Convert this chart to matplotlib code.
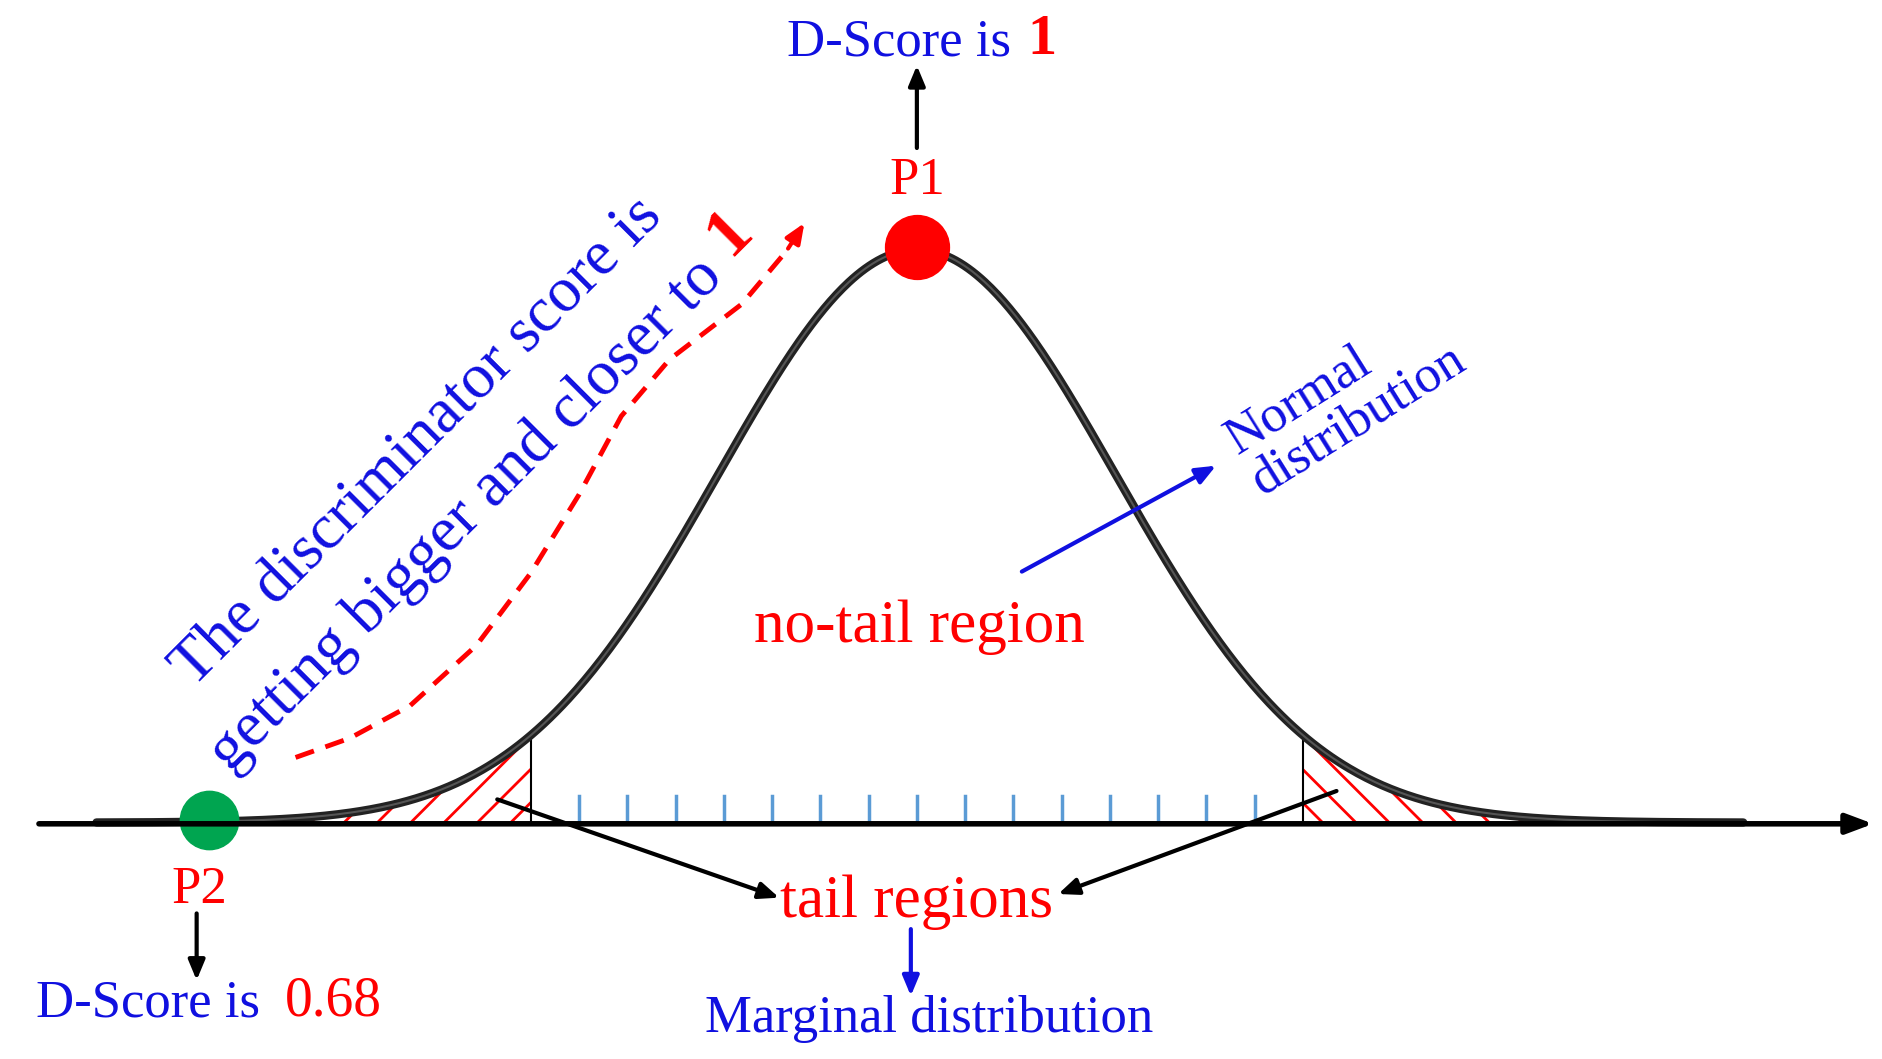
import numpy as np
import matplotlib.pyplot as plt
from matplotlib.patches import Polygon

plt.rcParams['font.family'] = ['Liberation Serif', 'DejaVu Serif']
plt.rcParams['hatch.linewidth'] = 2.0

# diagram layout in display units (1560 x 878 canvas, y downwards)
peak_x, peak_h, sigma = 760, 475, 165
base_y = 682
curve_x0, curve_x1 = 80, 1445
tail_left, tail_right = 440, 1080
tick_xs = list(range(480, 1041, 40))
dash_pts = [(245, 628), (290, 612), (340, 585), (395, 535), (440, 475),
            (480, 410), (515, 345), (555, 298), (615, 252), (652, 208)]

def curve_y(x):
    return base_y - peak_h * np.exp(-(x - peak_x) ** 2 / (2 * sigma ** 2))

fig = plt.figure(figsize=(18.82, 10.59), dpi=100)
ax = fig.add_axes([0, 0, 1, 1])
ax.set_xlim(0, 1560)
ax.set_ylim(878, 0)
ax.axis('off')

x = np.linspace(curve_x0, curve_x1, 800)
y = curve_y(x)

# hatched tails
for lo, hi, h, edge in [(curve_x0, tail_left, '/', tail_left), (tail_right, curve_x1, '\\', tail_right)]:
    xs = np.linspace(lo, hi, 200)
    pts = np.column_stack([np.r_[xs, hi, lo], np.r_[curve_y(xs), base_y, base_y]])
    ax.add_patch(Polygon(pts, closed=True, facecolor='white', edgecolor='red',
                         hatch=h, lw=0))
    ax.plot([edge, edge], [curve_y(edge), base_y], color='black', lw=1.5)

ax.plot(x, y, color='#222222', lw=6, solid_capstyle='round')
ax.plot(x, y, color='#555555', lw=1.5)

# blue ticks
for tx in tick_xs:
    ax.plot([tx, tx], [660, base_y], color='#5b9bd5', lw=2.5)

# main axis
ax.annotate('', xy=(1555, 683), xytext=(30, 683),
            arrowprops=dict(arrowstyle='-|>,head_length=1.6,head_width=0.6', color='black', lw=4))

# red dashed curve
dx, dy = zip(*dash_pts)
ax.plot(dx, dy, color='red', lw=3.5, ls=(0, (4, 2.5)))
ax.annotate('', xy=(668, 183), xytext=dash_pts[-1],
            arrowprops=dict(arrowstyle='-|>,head_length=1.2,head_width=0.5', color='red', lw=3))

def arrow(x0, y0, x1, y1, c='black'):
    ax.annotate('', xy=(x1, y1), xytext=(x0, y0),
                arrowprops=dict(arrowstyle='-|>,head_length=1.2,head_width=0.5', color=c, lw=3))

arrow(760, 125, 760, 52)
arrow(163, 755, 163, 815)
arrow(410, 662, 648, 745)
arrow(1110, 655, 875, 742)
arrow(755, 768, 755, 828, '#1010e0')
arrow(845, 475, 1010, 385, '#1010e0')

ax.plot(760, 205, 'o', color='red', ms=46)
ax.plot(173, 680, 'o', color='#00a550', ms=42)

blue = '#1010e0'
fs = 38
ax.text(838, 35, 'D-Score is', color=blue, fontsize=fs, ha='right', va='center')
ax.text(852, 33, '1', color='red', fontsize=fs + 4, fontweight='bold', ha='left', va='center')
ax.text(760, 150, 'P1', color='red', fontsize=fs, ha='center', va='center')
ax.text(165, 738, 'P2', color='red', fontsize=fs, ha='center', va='center')
ax.text(30, 832, 'D-Score is', color=blue, fontsize=fs, ha='left', va='center')
ax.text(236, 830, '0.68', color='red', fontsize=fs + 2, ha='left', va='center')
ax.text(762, 520, 'no-tail region', color='red', fontsize=44, ha='center', va='center')
ax.text(760, 748, 'tail regions', color='red', fontsize=44, ha='center', va='center')
ax.text(770, 845, 'Marginal distribution', color=blue, fontsize=fs, ha='center', va='center')
ax.text(1030, 385, 'Normal\ndistribution', color=blue, fontsize=fs, ha='left', va='center',
        rotation=32, rotation_mode='anchor', linespacing=1.0)

ax.text(152, 562, 'The discriminator score is', color=blue, fontsize=46,
        rotation=45, rotation_mode='anchor', ha='left', va='center')
ax.text(182, 632, 'getting bigger and closer to', color=blue, fontsize=46,
        rotation=45, rotation_mode='anchor', ha='left', va='center')
ax.text(605, 193, '1', color='red', fontsize=50, fontweight='bold', rotation=45,
        rotation_mode='anchor', ha='center', va='center')

fig.savefig('out.png', dpi=100)
